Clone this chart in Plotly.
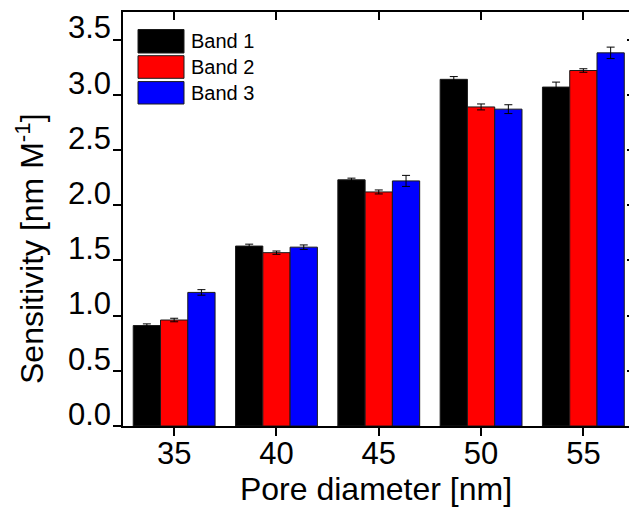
import plotly.graph_objects as go

# Pore diameters (nm) and band sensitivities (nm M^-1) with standard errors
pore_diameter = [35, 40, 45, 50, 55]

band1 = [0.91, 1.63, 2.23, 3.14, 3.07]
band2 = [0.96, 1.57, 2.12, 2.89, 3.22]
band3 = [1.21, 1.62, 2.22, 2.87, 3.38]

band1_err = [0.015, 0.017, 0.015, 0.025, 0.045]
band2_err = [0.016, 0.015, 0.018, 0.027, 0.016]
band3_err = [0.025, 0.020, 0.050, 0.040, 0.052]

series_names = ["Band 1", "Band 2", "Band 3"]
series_colors = ["#000000", "#ff0000", "#0000ff"]

x_ticks = [35, 40, 45, 50, 55]
y_ticks = [0.0, 0.5, 1.0, 1.5, 2.0, 2.5, 3.0, 3.5]
y_tick_text = ["0.0", "0.5", "1.0", "1.5", "2.0", "2.5", "3.0", "3.5"]

# the frame runs a few pixels past the right edge of the canvas
x_range = [32.5, 57.23]
y_range = [0, 3.75]

FONT = "Liberation Sans, Arial, sans-serif"
W, H = 629, 509
ML, MR, MT, MB = 123, 0, 12, 83
PW, PH = W - ML - MR, H - MT - MB


def px_x(p):
    return (p - ML) / PW


def px_y(p):
    return (H - MB - p) / PH


fig = go.Figure()

for name, vals, errs, col in zip(series_names, [band1, band2, band3],
                                 [band1_err, band2_err, band3_err], series_colors):
    fig.add_trace(go.Bar(
        x=pore_diameter, y=vals, name=name,
        marker=dict(color=col, line=dict(color="#1a1a1a", width=1)),
        error_y=dict(type="data", array=errs, visible=True,
                     color="#000000", thickness=1, width=4),
        showlegend=False,
    ))

# empty trace so the top/right tick axes get drawn
fig.add_trace(go.Scatter(x=[None], y=[None], xaxis="x2", yaxis="y2",
                         showlegend=False, hoverinfo="skip"))

axis_font = dict(family=FONT, size=31, color="#000000")

fig.update_layout(
    width=W, height=H,
    margin=dict(l=ML, r=MR, t=MT, b=MB, pad=0),
    paper_bgcolor="white", plot_bgcolor="white",
    barmode="group", bargap=0.2, bargroupgap=0.0,
    font=dict(family=FONT, color="#000000"),
    xaxis=dict(
        range=x_range, tickmode="array", tickvals=x_ticks,
        ticks="outside", ticklen=8, tickwidth=1.5, tickcolor="#000000",
        showline=True, linecolor="#000000", linewidth=1.5,
        showgrid=False, zeroline=False,
        tickfont=axis_font, ticklabelstandoff=-9,
        title=dict(text="Pore diameter [nm]",
                   font=dict(family=FONT, size=32, color="#000000"), standoff=6),
    ),
    yaxis=dict(
        range=y_range, tickmode="array", tickvals=y_ticks, ticktext=y_tick_text,
        ticks="outside", ticklen=8, tickwidth=1.5, tickcolor="#000000",
        showline=True, linecolor="#000000", linewidth=1.5,
        showgrid=False, zeroline=False,
        tickfont=axis_font, ticklabelshift=-12, ticklabelstandoff=-4,
    ),
    xaxis2=dict(
        overlaying="x", side="top", anchor="y2",
        range=x_range, tickmode="array", tickvals=x_ticks,
        ticks="inside", ticklen=8, tickwidth=1.5, tickcolor="#000000",
        showline=True, linecolor="#000000", linewidth=1.5,
        showticklabels=False, showgrid=False, zeroline=False,
    ),
    yaxis2=dict(
        overlaying="y", side="right", anchor="x2",
        range=y_range, tickmode="array", tickvals=y_ticks,
        ticks="inside", ticklen=2, tickwidth=1.5, tickcolor="#000000",
        showline=False,
        showticklabels=False, showgrid=False, zeroline=False,
    ),
)

# y-axis title
fig.add_annotation(
    xref="paper", yref="paper", x=px_x(30), y=px_y(249),
    text="Sensitivity [nm M<sup>-1</sup>]", textangle=-90,
    showarrow=False, xanchor="center", yanchor="middle",
    font=dict(family=FONT, size=32, color="#000000"),
)

# legend: large swatches with labels
box_tops = [29.5, 55.7, 81.6]
box_bottoms = [53.0, 78.3, 104.0]
for name, col, top, bot in zip(series_names, series_colors, box_tops, box_bottoms):
    fig.add_shape(type="rect", xref="paper", yref="paper",
                  x0=px_x(138), x1=px_x(184), y0=px_y(bot), y1=px_y(top),
                  fillcolor=col, line=dict(color="#1a1a1a", width=1))
    fig.add_annotation(xref="paper", yref="paper", x=px_x(189),
                       y=px_y((top + bot) / 2), text=name, showarrow=False,
                       xanchor="left", yanchor="middle",
                       font=dict(family=FONT, size=20, color="#000000"))

fig.write_html("out.html")
